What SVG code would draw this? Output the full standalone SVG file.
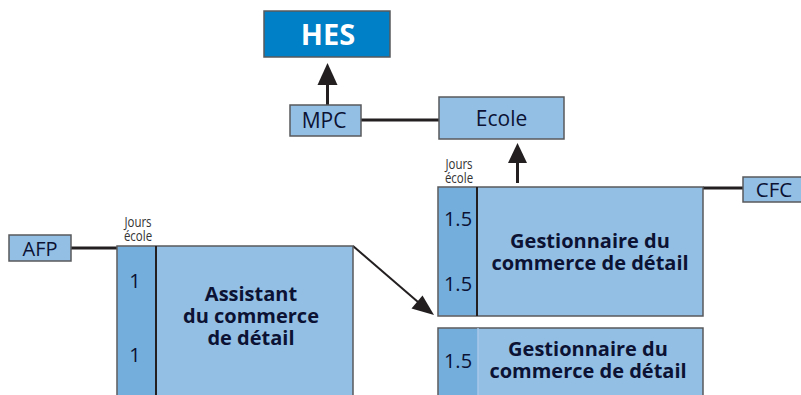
<svg xmlns="http://www.w3.org/2000/svg" width="801" height="395" viewBox="0 0 801 395">
<defs>
<style>
.box{fill:#93BFE5;stroke:#58595B;stroke-width:1.5}
.col{fill:#74AEDD;stroke:none}
.lbl{font-family:"Open Sans","Noto Sans",sans-serif;fill:#0B1233;text-anchor:middle}
.b{font-weight:bold;font-size:20px}
.num{font-size:20px}
.small{font-family:"Open Sans","Noto Sans",sans-serif;fill:#333;font-size:14px;text-anchor:middle}
.line{stroke:#231F20;stroke-width:3;fill:none}
</style>
</defs>
<rect width="801" height="395" fill="#fff"/>

<g id="connectors">
<line class="line" x1="327.5" y1="105" x2="327.5" y2="84"/>
<polygon points="317.5,85 337.5,85 327.5,63" fill="#231F20"/>
<line class="line" x1="361" y1="120" x2="439" y2="120"/>
<line class="line" x1="517.5" y1="183" x2="517.5" y2="162"/>
<polygon points="508,163 527,163 517.5,143" fill="#231F20"/>
<line class="line" x1="703" y1="188" x2="744" y2="188"/>
<line class="line" x1="71" y1="248" x2="117" y2="248"/>
<line stroke="#231F20" stroke-width="2" x1="353" y1="246" x2="418" y2="302"/>
<polygon points="411.5,308.5 422.5,295.5 434,315" fill="#231F20"/>
</g>

<g id="hes">
<rect x="264" y="11" width="126" height="46" fill="#0080C6" stroke="#58595B" stroke-width="1.5"/>
<text x="328" y="45" class="lbl" font-size="29" font-weight="bold" style="fill:#fff">HES</text>
</g>

<g id="mpc">
<rect class="box" x="290" y="105" width="71" height="31"/>
<text x="324" y="128" class="lbl" font-size="21">MPC</text>
</g>

<g id="ecole">
<rect class="box" x="439" y="97" width="125" height="42"/>
<text x="501.5" y="126" class="lbl" font-size="21">Ecole</text>
</g>

<g id="cfc">
<rect class="box" x="743" y="177" width="60" height="25"/>
<text x="774" y="197" class="lbl" font-size="20.5">CFC</text>
</g>

<g id="afp">
<rect class="box" x="9" y="235" width="62" height="26"/>
<text x="40" y="256" class="lbl" font-size="20">AFP</text>
</g>

<g id="gestionnaire1">
<text class="small" transform="translate(459 0) scale(0.82 1)"><tspan x="0" y="169">Jours</tspan><tspan x="0" y="183">école</tspan></text>
<rect class="box" x="438" y="187" width="265" height="129"/>
<rect class="col" x="439" y="188" width="38" height="127"/>
<line x1="477" y1="187" x2="477" y2="316" stroke="#231F20" stroke-width="2"/>
<text x="458" y="226" class="lbl num">1.5</text>
<text x="458" y="291" class="lbl num">1.5</text>
<text class="lbl b"><tspan x="590" y="248">Gestionnaire du</tspan><tspan x="590" y="270">commerce de détail</tspan></text>
</g>

<g id="gestionnaire2">
<rect class="box" x="438" y="328" width="265" height="80"/>
<rect class="col" x="439" y="329" width="39" height="70"/>
<line x1="478" y1="328" x2="478" y2="395" stroke="#A9C9E8" stroke-width="1.5"/>
<text x="458" y="368" class="lbl num">1.5</text>
<text class="lbl b"><tspan x="588" y="356">Gestionnaire du</tspan><tspan x="588" y="378">commerce de détail</tspan></text>
</g>

<g id="assistant">
<text class="small" transform="translate(138 0) scale(0.82 1)"><tspan x="0" y="227">Jours</tspan><tspan x="0" y="241">école</tspan></text>
<rect class="box" x="117" y="246" width="236" height="160"/>
<rect class="col" x="118" y="247" width="38" height="150"/>
<line x1="156" y1="246" x2="156" y2="395" stroke="#231F20" stroke-width="2"/>
<text x="135" y="288" class="lbl num">1</text>
<text x="135" y="362" class="lbl num">1</text>
<text class="lbl b"><tspan x="251" y="301">Assistant</tspan><tspan x="251" y="323">du commerce</tspan><tspan x="251" y="345">de détail</tspan></text>
</g>
</svg>
